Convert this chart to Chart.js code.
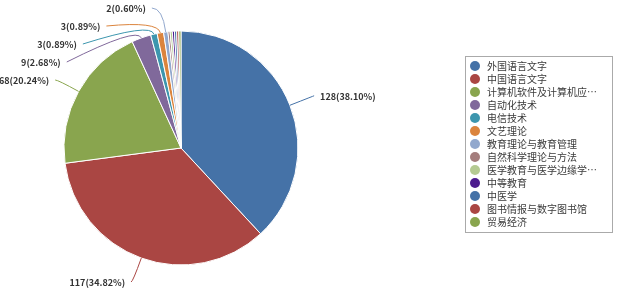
<!DOCTYPE html>
<html>
<head>
<meta charset="utf-8">
<script src="https://cdn.jsdelivr.net/npm/chart.js@4.4.1/dist/chart.umd.min.js"></script>
<style>
  html, body { margin: 0; padding: 0; background: #fff; }
  #wrap { width: 624px; height: 290px; }
</style>
</head>
<body>
<div id="wrap"><canvas id="pieChart"></canvas></div>
<script>
const categories = [
  '外国语言文字', '中国语言文字', '计算机软件及计算机应用', '自动化技术', '电信技术',
  '文艺理论', '教育理论与教育管理', '自然科学理论与方法', '医学教育与医学边缘学科',
  '中等教育', '中医学', '图书情报与数字图书馆', '贸易经济'
];
const counts = [128, 117, 68, 9, 3, 3, 2, 1, 1, 1, 1, 1, 1];
const sliceColors = [
  '#4572A7', '#AA4643', '#89A54E', '#80699B', '#3D96AE', '#DB843D', '#92A8CD',
  '#A47D7C', '#B5CA92', '#4C1B8E', '#4572A7', '#AA4643', '#89A54E'
];
const minLabelValue = 2;

// slice labels with curved leader lines, stacked so they don't overlap
const pieLabels = {
  id: 'pieLabels',
  afterDatasetsDraw(chart) {
    const { ctx } = chart;
    const arcs = chart.getDatasetMeta(0).data;
    const total = counts.reduce((a, b) => a + b, 0);
    const left = [];
    const right = [];

    arcs.forEach((arc, i) => {
      if (counts[i] < minLabelValue) return;
      const { x, y, startAngle, endAngle, outerRadius } =
        arc.getProps(['x', 'y', 'startAngle', 'endAngle', 'outerRadius'], true);
      const mid = (startAngle + endAngle) / 2;
      const r2 = outerRadius + 26;
      const item = {
        i, cx: x, cy: y, mid, r: outerRadius, r2,
        side: Math.cos(mid) >= 0 ? 1 : -1,
        ly: y + r2 * Math.sin(mid),
      };
      (item.side > 0 ? right : left).push(item);
    });

    const spacing = 18;
    const topLimit = 8;
    const bottomLimit = chart.height - 8;
    [left, right].forEach((list) => {
      list.sort((a, b) => a.ly - b.ly);
      let prev = topLimit - spacing;
      list.forEach((it) => {
        it.ly = Math.max(it.ly, prev + spacing);
        prev = it.ly;
      });
      let next = bottomLimit + spacing;
      for (let k = list.length - 1; k >= 0; k--) {
        list[k].ly = Math.min(list[k].ly, next - spacing);
        next = list[k].ly;
      }
    });

    ctx.save();
    ctx.lineWidth = 1;
    ctx.font = 'bold 9px "Noto Sans CJK SC", sans-serif';
    ctx.textBaseline = 'middle';

    [...left, ...right].forEach((it) => {
      const cos = Math.cos(it.mid);
      const sin = Math.sin(it.mid);
      const dy = it.ly - it.cy;
      const ex = it.cx + it.side * Math.sqrt(Math.max(it.r2 * it.r2 - dy * dy, 0));
      const ey = it.ly;
      const sx = it.cx + it.r * cos;
      const sy = it.cy + it.r * sin;
      let t = it.r + 12;
      if (Math.abs(sin) > 0.01) {
        const tHoriz = dy / sin;
        if (tHoriz > t) t = Math.min(tHoriz, it.r2);
      }
      const qx = it.cx + t * cos;
      const qy = it.cy + t * sin;

      ctx.strokeStyle = sliceColors[it.i];
      ctx.beginPath();
      ctx.moveTo(sx, sy);
      ctx.quadraticCurveTo(qx, qy, ex, ey);
      ctx.stroke();

      const v = counts[it.i];
      const text = v + '(' + (v / total * 100).toFixed(2) + '%)';
      ctx.fillStyle = '#333';
      ctx.textAlign = it.side > 0 ? 'left' : 'right';
      ctx.fillText(text, ex + it.side * 6, ey + 1);
    });
    ctx.restore();
  },
};

// boxed legend on the right
const boxLegend = {
  id: 'boxLegend',
  afterDraw(chart) {
    const { ctx } = chart;
    const bx = 465.5, by = 56.5, bw = 147, bh = 176;
    ctx.save();
    ctx.strokeStyle = '#aaa';
    ctx.lineWidth = 1;
    ctx.strokeRect(bx, by, bw, bh);
    ctx.font = '10px "Noto Sans CJK SC", sans-serif';
    ctx.textBaseline = 'middle';
    ctx.textAlign = 'left';
    categories.forEach((name, i) => {
      const yy = 66 + i * 13;
      ctx.fillStyle = sliceColors[i];
      ctx.beginPath();
      ctx.arc(475, yy, 5, 0, Math.PI * 2);
      ctx.fill();
      const shown = name.length > 10 ? name.slice(0, 10) + '…' : name;
      ctx.fillStyle = '#3a3a3a';
      ctx.fillText(shown, 487, yy);
    });
    ctx.restore();
  },
};

new Chart(document.getElementById('pieChart'), {
  type: 'pie',
  data: {
    labels: categories,
    datasets: [{
      data: counts,
      backgroundColor: sliceColors,
      borderColor: '#fff',
      borderWidth: 1,
      hoverOffset: 0,
    }],
  },
  options: {
    responsive: true,
    maintainAspectRatio: false,
    animation: false,
    events: [],
    radius: 117,
    layout: { padding: { left: 64, right: 326, top: 31, bottom: 25 } },
    plugins: {
      legend: { display: false },
      tooltip: { enabled: false },
    },
  },
  plugins: [pieLabels, boxLegend],
});
</script>
</body>
</html>
